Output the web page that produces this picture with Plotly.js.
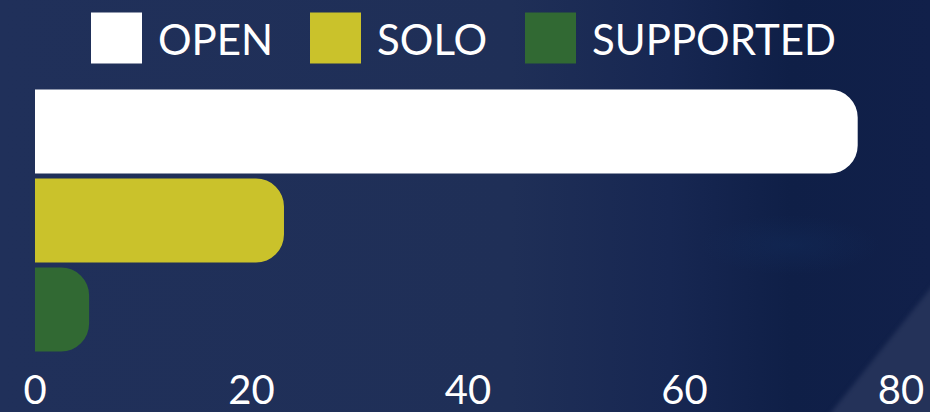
<!DOCTYPE html>
<html>
<head>
<meta charset="utf-8">
<script src="https://cdn.plot.ly/plotly-3.0.1.min.js"></script>
<style>
html, body { margin: 0; padding: 0; width: 930px; height: 412px; overflow: hidden; }
body {
  position: relative;
  background:
    radial-gradient(ellipse 90px 30px at 790px 245px, rgba(20,50,100,0.3), rgba(20,50,100,0) 100%),
    linear-gradient(90deg, #20305a 0%, #1f2f57 55%, #172752 72%, #0f1f47 85%, #11204a 100%);
}
#diagwrap { position: absolute; left: 0; top: 0; width: 930px; height: 412px; filter: blur(2px); }
#diag {
  position: absolute; left: 0; top: 0; width: 950px; height: 430px;
  background: #243259;
  clip-path: polygon(817px 430px, 950px 264px, 950px 430px);
}
#chart { position: absolute; left: 0; top: 0; width: 930px; height: 412px; }
</style>
</head>
<body>
<div id="diagwrap"><div id="diag"></div></div>
<div id="chart"></div>
<script>
// Data
const categories = ["OPEN", "SOLO", "SUPPORTED"];
const values = [76, 23, 5];
const colors = ["#ffffff", "#cac22b", "#316933"];
const tickValues = [0, 20, 40, 60, 80];
const tickLabels = ["0", "20", "40", "60", "80"];

// Layout geometry (pixels)
const W = 930, H = 412;
const M = { l: 35, r: 29, t: 87, b: 58 };
const plotW = W - M.l - M.r, plotH = H - M.t - M.b;
const legendSquareX = [91, 310, 525];
const legendSquareSize = 51;
const legendCenterY = 38;
const legendTextGap = 14;

const px2x = p => (p - M.l) / plotW;
const py2y = p => (H - M.b - p) / plotH;

const shapes = [], annotations = [];
categories.forEach((c, i) => {
  const x0 = legendSquareX[i];
  shapes.push({
    type: "rect", xref: "paper", yref: "paper",
    x0: px2x(x0), x1: px2x(x0 + legendSquareSize),
    y0: py2y(legendCenterY + legendSquareSize / 2), y1: py2y(legendCenterY - legendSquareSize / 2),
    fillcolor: colors[i], line: { width: 0 }
  });
  annotations.push({
    xref: "paper", yref: "paper",
    x: px2x(x0 + legendSquareSize + legendTextGap), y: py2y(legendCenterY + 1),
    xanchor: "left", yanchor: "middle", showarrow: false,
    text: c, font: { family: "Lato", size: 42, color: "#ffffff" }
  });
});

const trace = {
  type: "bar", orientation: "h",
  y: categories, x: values,
  marker: { color: colors, cornerradius: 28, line: { width: 0 } },
  hoverinfo: "skip", showlegend: false
};

const layout = {
  width: W, height: H,
  margin: M,
  paper_bgcolor: "rgba(0,0,0,0)",
  plot_bgcolor: "rgba(0,0,0,0)",
  bargap: 0.056,
  showlegend: false,
  font: { family: "Lato", color: "#ffffff" },
  xaxis: {
    range: [0, 80], tickvals: tickValues, ticktext: tickLabels,
    showgrid: false, zeroline: false, showline: false, ticks: "",
    tickfont: { family: "Lato", size: 40, color: "#ffffff" },
    ticklabelstandoff: 9, fixedrange: true
  },
  yaxis: {
    autorange: "reversed", showticklabels: false, showgrid: false,
    zeroline: false, showline: false, ticks: "", fixedrange: true
  },
  shapes: shapes,
  annotations: annotations
};

Plotly.newPlot("chart", [trace], layout, { displayModeBar: false, staticPlot: true });
</script>
</body>
</html>
